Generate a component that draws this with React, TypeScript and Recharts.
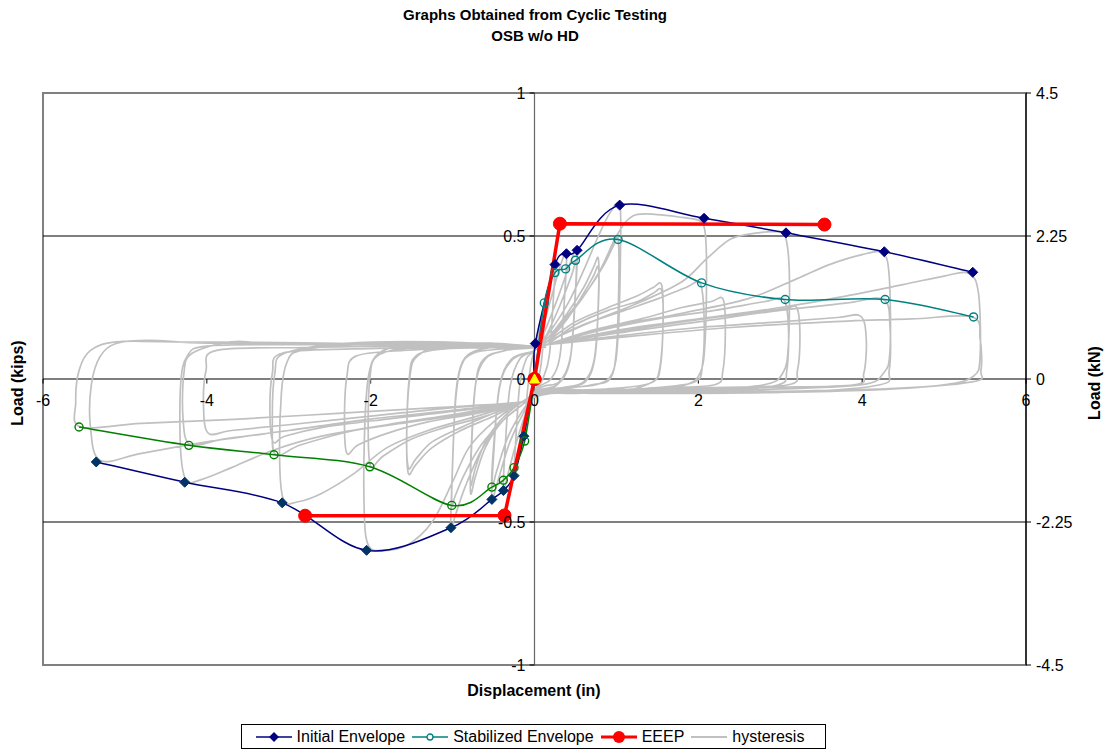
import React from "react";
import {
  LineChart, Line, XAxis, YAxis, ReferenceLine, ReferenceDot, ReferenceArea
} from "recharts";

// envelopes (in, kips)
const initialPosX = [0, 0.01, 0.25, 0.39, 0.52, 1.04, 2.07, 3.07, 4.27, 5.35];
const initialPosY = [0, 0.124, 0.4, 0.438, 0.45, 0.608, 0.562, 0.511, 0.445, 0.373];
const initialNegX = [-5.35, -4.27, -3.08, -2.05, -1.02, -0.52, -0.38, -0.25, -0.13, 0];
const initialNegY = [-0.29, -0.361, -0.433, -0.599, -0.52, -0.421, -0.39, -0.338, -0.2, 0];

const stabilizedPosX = [0, 0.12, 0.25, 0.38, 0.5, 1.02, 2.04, 3.06, 4.28, 5.36];
const stabilizedPosY = [0, 0.266, 0.372, 0.385, 0.415, 0.488, 0.336, 0.278, 0.278, 0.217];
const stabilizedNegX = [-5.56, -4.22, -3.18, -2.01, -1.01, -0.52, -0.38, -0.25, -0.12, 0];
const stabilizedNegY = [-0.168, -0.232, -0.265, -0.307, -0.442, -0.378, -0.354, -0.31, -0.217, 0];

const eeepPosX = [0, 0.31, 3.54];
const eeepPosY = [0, 0.543, 0.54];
const eeepNegX = [0, -0.366, -2.8];
const eeepNegY = [0, -0.477, -0.478];

const originX = [0];
const originY = [0];

const xTicks = [-6, -4, -2, 0, 2, 4, 6];
const yTicks = [-1, -0.5, 0, 0.5, 1];
const knTicks = [-4.5, -2.25, 0, 2.25, 4.5];

// hysteresis, one cycle per row ([disp, load] pairs)
const hysteresisCycles: number[][][] = [
  [[0, 0], [0.05, 0.12], [0.1, 0.22], [0.13, 0.27], [0.12, 0.18], [0.08, 0.05], [0.03, -0.02], [0, -0.05], [-0.05, -0.1], [-0.1, -0.17], [-0.13, -0.21], [-0.11, -0.12], [-0.07, 0], [-0.03, 0.07], [0, 0.1]],
  [[0.05, 0.16], [0.12, 0.27], [0.2, 0.36], [0.25, 0.4], [0.23, 0.28], [0.18, 0.08], [0.1, 0], [0.02, -0.04], [-0.06, -0.1], [-0.15, -0.22], [-0.22, -0.31], [-0.25, -0.34], [-0.23, -0.22], [-0.18, -0.02], [-0.1, 0.07], [0, 0.1]],
  [[0.08, 0.16], [0.2, 0.28], [0.32, 0.4], [0.39, 0.44], [0.37, 0.3], [0.31, 0.08], [0.2, 0], [0.05, -0.03], [-0.08, -0.1], [-0.22, -0.22], [-0.33, -0.34], [-0.38, -0.39], [-0.36, -0.25], [-0.3, -0.03], [-0.18, 0.07], [0, 0.1]],
  [[0.1, 0.15], [0.28, 0.28], [0.43, 0.4], [0.52, 0.45], [0.5, 0.3], [0.44, 0.08], [0.3, -0.01], [0.08, -0.03], [-0.1, -0.1], [-0.3, -0.22], [-0.45, -0.36], [-0.52, -0.42], [-0.5, -0.27], [-0.43, -0.03], [-0.28, 0.07], [0, 0.1]],
  [[0.12, 0.14], [0.3, 0.25], [0.45, 0.36], [0.51, 0.41], [0.49, 0.26], [0.43, 0.06], [0.28, -0.02], [0.06, -0.04], [-0.12, -0.1], [-0.32, -0.2], [-0.46, -0.32], [-0.52, -0.38], [-0.5, -0.24], [-0.42, -0.02], [-0.26, 0.07], [0, 0.1]],
  [[0.15, 0.15], [0.4, 0.26], [0.6, 0.38], [0.78, 0.5], [0.92, 0.58], [1.04, 0.61], [1.05, 0.45], [1.02, 0.15], [0.95, 0.02], [0.75, -0.02], [0.4, -0.03], [0.1, -0.04], [-0.15, -0.09], [-0.4, -0.15], [-0.65, -0.25], [-0.85, -0.38], [-0.97, -0.48], [-1.02, -0.52], [-1.01, -0.38], [-0.97, -0.1], [-0.9, 0.04], [-0.75, 0.09], [-0.4, 0.105], [0, 0.11]],
  [[0.15, 0.14], [0.4, 0.23], [0.6, 0.32], [0.72, 0.39], [0.78, 0.42], [0.78, 0.28], [0.74, 0.08], [0.62, -0.01], [0.35, -0.03], [0.08, -0.04], [-0.15, -0.09], [-0.4, -0.15], [-0.6, -0.24], [-0.72, -0.34], [-0.78, -0.4], [-0.77, -0.25], [-0.72, -0.02], [-0.62, 0.07], [-0.35, 0.1], [0, 0.11]],
  [[0.15, 0.13], [0.4, 0.21], [0.6, 0.3], [0.72, 0.36], [0.78, 0.39], [0.78, 0.26], [0.73, 0.07], [0.6, -0.01], [0.35, -0.03], [0.08, -0.04], [-0.15, -0.08], [-0.4, -0.14], [-0.6, -0.22], [-0.72, -0.31], [-0.78, -0.37], [-0.77, -0.23], [-0.72, -0.02], [-0.6, 0.07], [-0.35, 0.1], [0, 0.11]],
  [[0.15, 0.13], [0.4, 0.22], [0.65, 0.31], [0.85, 0.4], [0.97, 0.47], [1.02, 0.49], [1.03, 0.35], [1, 0.1], [0.92, 0], [0.7, -0.02], [0.35, -0.035], [0.08, -0.045], [-0.15, -0.09], [-0.4, -0.15], [-0.65, -0.23], [-0.85, -0.33], [-0.97, -0.41], [-1.01, -0.44], [-1, -0.3], [-0.96, -0.05], [-0.88, 0.06], [-0.7, 0.1], [-0.35, 0.115], [0, 0.115]],
  [[0.15, 0.14], [0.5, 0.25], [0.8, 0.38], [1, 0.5], [1.2, 0.57], [1.5, 0.575], [1.8, 0.565], [2, 0.555], [2.08, 0.52], [2.1, 0.38], [2.08, 0.12], [2.02, 0.02], [1.85, -0.02], [1.4, -0.035], [0.8, -0.045], [0.2, -0.05], [-0.15, -0.08], [-0.5, -0.15], [-0.8, -0.24], [-1, -0.36], [-1.25, -0.5], [-1.55, -0.58], [-1.85, -0.6], [-2.03, -0.58], [-2.08, -0.45], [-2.07, -0.15], [-2.02, 0.02], [-1.9, 0.09], [-1.6, 0.115], [-1, 0.12], [-0.4, 0.115], [0, 0.11]],
  [[0.15, 0.13], [0.5, 0.2], [0.9, 0.25], [1.25, 0.29], [1.45, 0.32], [1.55, 0.33], [1.57, 0.22], [1.54, 0.05], [1.45, -0.01], [1.1, -0.03], [0.5, -0.04], [0.1, -0.045], [-0.15, -0.08], [-0.5, -0.13], [-0.9, -0.18], [-1.25, -0.24], [-1.45, -0.3], [-1.54, -0.33], [-1.56, -0.2], [-1.53, 0], [-1.45, 0.08], [-1.1, 0.105], [-0.5, 0.11], [0, 0.11]],
  [[0.15, 0.12], [0.5, 0.19], [0.9, 0.24], [1.25, 0.27], [1.45, 0.3], [1.55, 0.31], [1.57, 0.2], [1.53, 0.04], [1.44, -0.01], [1.1, -0.04], [0.5, -0.05], [0.1, -0.05], [-0.15, -0.08], [-0.5, -0.12], [-0.9, -0.17], [-1.25, -0.22], [-1.45, -0.28], [-1.54, -0.31], [-1.56, -0.18], [-1.52, 0.01], [-1.43, 0.08], [-1.1, 0.12], [-0.5, 0.125], [0, 0.115]],
  [[0.15, 0.13], [0.6, 0.19], [1.1, 0.24], [1.5, 0.28], [1.85, 0.32], [2.02, 0.335], [2.07, 0.22], [2.05, 0.05], [1.96, -0.01], [1.5, -0.03], [0.8, -0.04], [0.15, -0.045], [-0.15, -0.08], [-0.6, -0.13], [-1.1, -0.17], [-1.5, -0.21], [-1.85, -0.27], [-2, -0.305], [-2.03, -0.18], [-2.01, 0], [-1.92, 0.08], [-1.5, 0.11], [-0.8, 0.115], [0, 0.11]],
  [[0.15, 0.13], [0.7, 0.2], [1.3, 0.27], [1.8, 0.34], [2.1, 0.42], [2.4, 0.49], [2.7, 0.51], [2.95, 0.515], [3.06, 0.5], [3.11, 0.38], [3.1, 0.12], [3.03, 0.02], [2.8, -0.02], [2, -0.04], [1, -0.05], [0.2, -0.05], [-0.15, -0.08], [-0.7, -0.13], [-1.3, -0.18], [-1.8, -0.24], [-2.2, -0.33], [-2.6, -0.4], [-2.9, -0.43], [-3.06, -0.425], [-3.11, -0.3], [-3.09, -0.05], [-3.02, 0.06], [-2.85, 0.1], [-2.2, 0.12], [-1.2, 0.125], [-0.4, 0.115], [0, 0.11]],
  [[0.15, 0.12], [0.7, 0.17], [1.3, 0.21], [1.8, 0.25], [2.15, 0.27], [2.3, 0.28], [2.33, 0.18], [2.3, 0.03], [2.2, -0.02], [1.6, -0.03], [0.8, -0.04], [0.15, -0.04], [-0.15, -0.08], [-0.7, -0.12], [-1.3, -0.15], [-1.8, -0.19], [-2.15, -0.23], [-2.29, -0.26], [-2.32, -0.15], [-2.29, 0.01], [-2.18, 0.08], [-1.6, 0.1], [-0.8, 0.11], [0, 0.11]],
  [[0.15, 0.12], [0.8, 0.17], [1.5, 0.21], [2.2, 0.24], [2.8, 0.27], [3.04, 0.278], [3.1, 0.18], [3.08, 0.03], [2.98, -0.02], [2.3, -0.04], [1.2, -0.05], [0.2, -0.045], [-0.15, -0.08], [-0.8, -0.12], [-1.5, -0.15], [-2.2, -0.18], [-2.85, -0.23], [-3.16, -0.265], [-3.2, -0.15], [-3.17, 0.02], [-3.05, 0.09], [-2.3, 0.125], [-1.2, 0.13], [0, 0.115]],
  [[0.15, 0.12], [0.9, 0.18], [1.8, 0.23], [2.6, 0.28], [3.2, 0.35], [3.6, 0.4], [4, 0.435], [4.25, 0.44], [4.33, 0.36], [4.34, 0.1], [4.26, 0.02], [4, -0.02], [3, -0.035], [1.5, -0.045], [0.2, -0.05], [-0.15, -0.08], [-0.9, -0.12], [-1.8, -0.16], [-2.6, -0.2], [-3.2, -0.25], [-3.7, -0.31], [-4.05, -0.35], [-4.25, -0.355], [-4.32, -0.25], [-4.32, -0.02], [-4.24, 0.08], [-4, 0.115], [-3, 0.12], [-1.5, 0.12], [-0.4, 0.11], [0, 0.11]],
  [[0.15, 0.12], [0.9, 0.16], [1.8, 0.2], [2.6, 0.23], [3.05, 0.245], [3.2, 0.25], [3.24, 0.16], [3.21, 0.03], [3.1, -0.02], [2.2, -0.03], [1, -0.04], [0.15, -0.04], [-0.15, -0.08], [-0.9, -0.11], [-1.8, -0.14], [-2.6, -0.17], [-3.05, -0.2], [-3.19, -0.22], [-3.23, -0.12], [-3.2, 0.02], [-3.08, 0.09], [-2.2, 0.105], [-1, 0.11], [0, 0.11]],
  [[0.15, 0.12], [1, 0.16], [2, 0.2], [3, 0.24], [3.8, 0.265], [4.26, 0.278], [4.34, 0.18], [4.33, 0.03], [4.22, -0.02], [3.2, -0.045], [1.6, -0.05], [0.2, -0.045], [-0.15, -0.08], [-1, -0.11], [-2, -0.14], [-3, -0.18], [-3.8, -0.21], [-4.2, -0.23], [-4.29, -0.14], [-4.28, 0.02], [-4.18, 0.09], [-3.7, 0.13], [-3.2, 0.125], [-1.6, 0.12], [0, 0.11]],
  [[0.15, 0.12], [1, 0.17], [2, 0.21], [3, 0.25], [3.8, 0.29], [4.5, 0.33], [5, 0.36], [5.3, 0.37], [5.42, 0.3], [5.44, 0.08], [5.36, 0.01], [5, -0.02], [4, -0.04], [2, -0.05], [0.2, -0.05], [-0.15, -0.08], [-1, -0.11], [-2, -0.14], [-3, -0.18], [-4, -0.22], [-4.8, -0.26], [-5.3, -0.285], [-5.42, -0.17], [-5.41, -0.02], [-5.3, 0.08], [-5.1, 0.125], [-4.7, 0.135], [-4, 0.125], [-2.5, 0.12], [-1, 0.12], [0, 0.11]],
  [[0.15, 0.12], [1, 0.15], [2, 0.18], [3, 0.2], [3.7, 0.215], [3.98, 0.22], [4.05, 0.14], [4.02, 0.02], [3.9, -0.02], [2.8, -0.03], [1.4, -0.04], [0.15, -0.04], [-0.15, -0.08], [-1, -0.1], [-2, -0.13], [-3, -0.16], [-3.7, -0.18], [-3.98, -0.19], [-4.04, -0.1], [-4.01, 0.03], [-3.88, 0.1], [-2.8, 0.11], [-1.4, 0.115], [0, 0.11]],
  [[0.15, 0.12], [1.2, 0.15], [2.4, 0.18], [3.6, 0.2], [4.6, 0.21], [5.34, 0.217], [5.44, 0.14], [5.45, 0.03], [5.34, -0.01], [4.2, -0.035], [2.2, -0.045], [0.2, -0.045], [-0.15, -0.08], [-1.2, -0.1], [-2.4, -0.12], [-3.6, -0.14], [-4.8, -0.155], [-5.54, -0.168], [-5.6, -0.08], [-5.56, 0.03], [-5.42, 0.1], [-5.1, 0.13], [-4.4, 0.13], [-2.4, 0.125], [0, 0.11]],
];

const toPoints = (xs: number[], ys: number[]) => xs.map((x, i) => ({ x, y: ys[i] }));
const hysteresisData = hysteresisCycles.flat().map(([x, y]) => ({ x, y }));

// smooth curve through the points, like the spreadsheet's smoothed lines
const smoothCurve = (context: any) => {
  let pts: number[][] = [];
  return {
    areaStart() {},
    areaEnd() {},
    lineStart() { pts = []; },
    point(x: number, y: number) { pts.push([x, y]); },
    lineEnd() {
      if (!pts.length) return;
      context.moveTo(pts[0][0], pts[0][1]);
      for (let i = 0; i < pts.length - 1; i++) {
        const p0 = pts[i > 0 ? i - 1 : i];
        const p1 = pts[i];
        const p2 = pts[i + 1];
        const p3 = pts[i + 2 < pts.length ? i + 2 : i + 1];
        context.bezierCurveTo(
          p1[0] + (p2[0] - p0[0]) / 6, p1[1] + (p2[1] - p0[1]) / 6,
          p2[0] - (p3[0] - p1[0]) / 6, p2[1] - (p3[1] - p1[1]) / 6,
          p2[0], p2[1]
        );
      }
    },
  };
};

const FONT = '"Liberation Sans", Arial, sans-serif';

const diamondDot = (fill: string) => (props: any) => {
  const { cx, cy, index } = props;
  if (cx == null || cy == null) return <g key={`dd-${index}`} />;
  const s = 5;
  return (
    <path key={`dd-${index}`} d={`M${cx},${cy - s}L${cx + s},${cy}L${cx},${cy + s}L${cx - s},${cy}Z`} fill={fill} stroke={fill} strokeWidth={1} />
  );
};

const circleDot = (color: string) => (props: any) => {
  const { cx, cy, index } = props;
  if (cx == null || cy == null) return <g key={`cd-${index}`} />;
  return <circle key={`cd-${index}`} cx={cx} cy={cy} r={4} fill="none" stroke={color} strokeWidth={1.4} />;
};

const redDot = (props: any) => {
  const { cx, cy, index } = props;
  if (cx == null || cy == null) return <g key={`rd-${index}`} />;
  return <circle key={`rd-${index}`} cx={cx} cy={cy} r={6.5} fill="#ff0000" stroke="#ff0000" />;
};

const triangleDot = (props: any) => {
  const { cx, cy, index } = props;
  if (cx == null || cy == null) return <g key={`td-${index}`} />;
  return <path key={`td-${index}`} d={`M${cx},${cy - 5}L${cx + 5},${cy + 4}L${cx - 5},${cy + 4}Z`} fill="#ffff00" stroke="#ffff00" />;
};

const fmt = (v: number) => String(v);

function LegendItem({ kind, label }: { kind: string; label: string }) {
  return (
    <div style={{ display: "flex", alignItems: "center", marginRight: 7 }}>
      <svg width={36} height={14} style={{ marginRight: 5 }}>
        {kind === "initial" && (
          <g>
            <line x1={0} y1={7} x2={36} y2={7} stroke="#000080" strokeWidth={1.5} />
            <path d="M18,2L23,7L18,12L13,7Z" fill="#000080" />
          </g>
        )}
        {kind === "stabilized" && (
          <g>
            <line x1={0} y1={7} x2={36} y2={7} stroke="#008080" strokeWidth={1.5} />
            <circle cx={18} cy={7} r={3} fill="#fff" stroke="#008080" strokeWidth={1.3} />
          </g>
        )}
        {kind === "eeep" && (
          <g>
            <line x1={0} y1={7} x2={36} y2={7} stroke="#ff0000" strokeWidth={3} />
            <circle cx={18} cy={7} r={6} fill="#ff0000" />
          </g>
        )}
        {kind === "hyst" && <line x1={0} y1={7} x2={36} y2={7} stroke="#c0c0c0" strokeWidth={2} />}
      </svg>
      <span>{label}</span>
    </div>
  );
}

export default function App() {
  return (
    <div style={{ position: "absolute", left: 0, top: 0, width: 1109, height: 752, background: "#fff", fontFamily: FONT, color: "#000" }}>
      <div style={{ position: "absolute", left: 0, top: 4, width: 1070, textAlign: "center", fontWeight: "bold", fontSize: 15, lineHeight: "21px" }}>
        <div>Graphs Obtained from Cyclic Testing</div>
        <div>OSB w/o HD</div>
      </div>

      <LineChart width={1109} height={752} margin={{ top: 93, right: 0, bottom: 87, left: 43 }}>
        <XAxis xAxisId="d" dataKey="x" type="number" domain={[-6, 6]} allowDataOverflow hide />
        <YAxis yAxisId="kips" type="number" domain={[-1, 1]} allowDataOverflow hide />
        <YAxis
          yAxisId="kn"
          orientation="right"
          type="number"
          domain={[-4.5, 4.5]}
          ticks={knTicks}
          allowDataOverflow
          width={83}
          tickSize={5}
          tickMargin={5}
          tickFormatter={fmt}
          axisLine={{ stroke: "#000", strokeWidth: 1.2 }}
          tickLine={{ stroke: "#000" }}
          tick={{ fill: "#000", fontSize: 16, fontFamily: FONT }}
        />

        <ReferenceArea xAxisId="d" yAxisId="kips" x1={-6} x2={6} y1={-1} y2={1} fill="none" stroke="#808080" strokeWidth={2} ifOverflow="visible" />
        <ReferenceLine xAxisId="d" yAxisId="kips" y={0.5} stroke="#000" strokeWidth={1.2} />
        <ReferenceLine xAxisId="d" yAxisId="kips" y={-0.5} stroke="#000" strokeWidth={1.2} />
        <ReferenceLine xAxisId="d" yAxisId="kips" y={0} stroke="#000" strokeWidth={1.2} />
        <ReferenceLine xAxisId="d" yAxisId="kips" x={0} stroke="#666" strokeWidth={1.2} />

        {yTicks.map((t) => (
          <ReferenceLine key={`yt-${t}`} xAxisId="d" yAxisId="kips" ifOverflow="visible"
            segment={[{ x: -0.06, y: t }, { x: 0, y: t }]} stroke="#000" />
        ))}
        {xTicks.map((t) => (
          <ReferenceLine key={`xt-${t}`} xAxisId="d" yAxisId="kips" ifOverflow="visible"
            segment={[{ x: t, y: 0 }, { x: t, y: -0.016 }]} stroke="#000" />
        ))}

        <Line xAxisId="d" yAxisId="kips" data={hysteresisData} dataKey="y" type={smoothCurve as any}
          stroke="#c0c0c0" strokeWidth={1.7} dot={false} isAnimationActive={false} />

        <Line xAxisId="d" yAxisId="kips" data={toPoints(initialPosX, initialPosY)} dataKey="y" type={smoothCurve as any}
          stroke="#000080" strokeWidth={1.5} dot={diamondDot("#000080")} isAnimationActive={false} />
        <Line xAxisId="d" yAxisId="kips" data={toPoints(initialNegX, initialNegY)} dataKey="y" type={smoothCurve as any}
          stroke="#000080" strokeWidth={1.5} dot={diamondDot("#003366")} isAnimationActive={false} />
        <Line xAxisId="d" yAxisId="kips" data={toPoints(stabilizedPosX, stabilizedPosY)} dataKey="y" type={smoothCurve as any}
          stroke="#008080" strokeWidth={1.5} dot={circleDot("#008080")} isAnimationActive={false} />
        <Line xAxisId="d" yAxisId="kips" data={toPoints(stabilizedNegX, stabilizedNegY)} dataKey="y" type={smoothCurve as any}
          stroke="#008000" strokeWidth={1.5} dot={circleDot("#008000")} isAnimationActive={false} />

        <Line xAxisId="d" yAxisId="kips" data={toPoints(eeepPosX, eeepPosY)} dataKey="y" type="linear"
          stroke="#ff0000" strokeWidth={3.5} dot={redDot} isAnimationActive={false} />
        <Line xAxisId="d" yAxisId="kips" data={toPoints(eeepNegX, eeepNegY)} dataKey="y" type="linear"
          stroke="#ff0000" strokeWidth={3.5} dot={redDot} isAnimationActive={false} />
        <Line xAxisId="d" yAxisId="kips" data={toPoints(originX, originY)} dataKey="y"
          stroke="none" dot={triangleDot} isAnimationActive={false} />

        {yTicks.map((t) => (
          <ReferenceDot key={`yl-${t}`} xAxisId="d" yAxisId="kips" x={0} y={t} r={0} fill="none" stroke="none" ifOverflow="visible"
            label={{ value: fmt(t), position: "left", offset: 9, fill: "#000", fontSize: 16, fontFamily: FONT }} />
        ))}
        {xTicks.map((t) => (
          <ReferenceDot key={`xl-${t}`} xAxisId="d" yAxisId="kips" x={t} y={0} r={0} fill="none" stroke="none" ifOverflow="visible"
            label={{ value: fmt(t), position: "bottom", offset: 16, fill: "#000", fontSize: 16, fontFamily: FONT }} />
        ))}
      </LineChart>

      <div style={{ position: "absolute", left: 18, top: 383, transform: "translate(-50%, -50%) rotate(-90deg)", fontWeight: "bold", fontSize: 16, whiteSpace: "nowrap" }}>
        Load (kips)
      </div>
      <div style={{ position: "absolute", left: 1095, top: 383, transform: "translate(-50%, -50%) rotate(-90deg)", fontWeight: "bold", fontSize: 16, whiteSpace: "nowrap" }}>
        Load (kN)
      </div>
      <div style={{ position: "absolute", left: 0, top: 682, width: 1068, textAlign: "center", fontWeight: "bold", fontSize: 16 }}>
        Displacement (in)
      </div>

      <div style={{ position: "absolute", left: 241, top: 724, width: 585, height: 25, boxSizing: "border-box", border: "1px solid #000", display: "flex", alignItems: "center", justifyContent: "center", fontSize: 16 }}>
        <LegendItem kind="initial" label="Initial Envelope" />
        <LegendItem kind="stabilized" label="Stabilized Envelope" />
        <LegendItem kind="eeep" label="EEEP" />
        <LegendItem kind="hyst" label="hysteresis" />
      </div>
    </div>
  );
}
